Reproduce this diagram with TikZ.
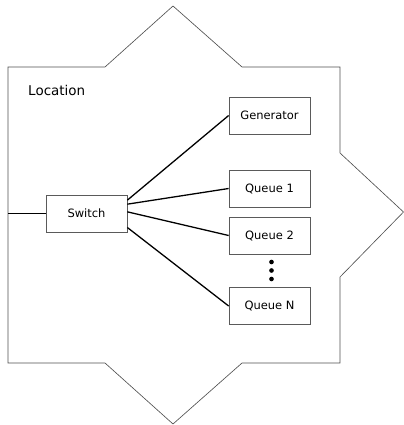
\documentclass[tikz,border=0pt]{standalone}
\usepackage{fontspec}
\setmainfont{DejaVu Sans}
\usepackage{tikz}
\usetikzlibrary{
  positioning,
  calc
}
\definecolor{edgegray}{RGB}{80,80,80}
\definecolor{boxgray}{RGB}{90,90,90}

\begin{document}
\begin{tikzpicture}[
            x=0.03cm, y=-0.03cm,
            blk/.style={draw=boxgray, line width=0.6pt, minimum width=2.43cm, minimum height=1.11cm, inner sep=0pt, font=\fontsize{9.8}{11}\selectfont},
            wire/.style={draw=black, line width=1.1pt},
            dot/.style={circle, fill=black, inner sep=0pt, minimum size=0.14cm}
        ]
            \useasboundingbox (0,0) rectangle (404,425);
            % Location outline
            \draw[edgegray, line width=0.55pt] (8,67) -- (105,67) -- (173,6) -- (242,67) -- (340,67)
                -- (340,153) -- (403.5,212) -- (340,277) -- (340,363)
                -- (242,363) -- (173,424) -- (105,363) -- (8,363) -- cycle;
            \node[anchor=base west, inner sep=0pt, font=\fontsize{11.5}{13}\selectfont] (loc) at (28,96) {Location};
            \coordinate (inlet) at (8,213.5);
            % Switch and its outputs
            \node[blk] (switch) at (86.5,213.5) {Switch};
            \node[blk] (gen) at (269.5,115.5) {Generator};
            \node[blk] (q1) at (269.5,188.5) {Queue 1};
            \node[blk] (q2) at (269.5,235.5) {Queue 2};
            \node[blk] (qn) at (269.5,306) {Queue N};
            % Dots between Queue 2 and Queue N
            \node[dot] (d1) at (271.5,262) {};
            \node[dot] (d2) at (271.5,270.5) {};
            \node[dot] (d3) at (271.5,279) {};
            % Connections
            \draw[wire] (inlet) -- (switch.west);
            \draw[wire] ([yshift=0.4cm]switch.east) -- (gen.west);
            \draw[wire] ([yshift=0.28cm]switch.east) -- (q1.west);
            \draw[wire] ([yshift=0.05cm]switch.east) -- (q2.west);
            \draw[wire] ([yshift=-0.42cm]switch.east) -- (qn.west);
        \end{tikzpicture}
\end{document}
